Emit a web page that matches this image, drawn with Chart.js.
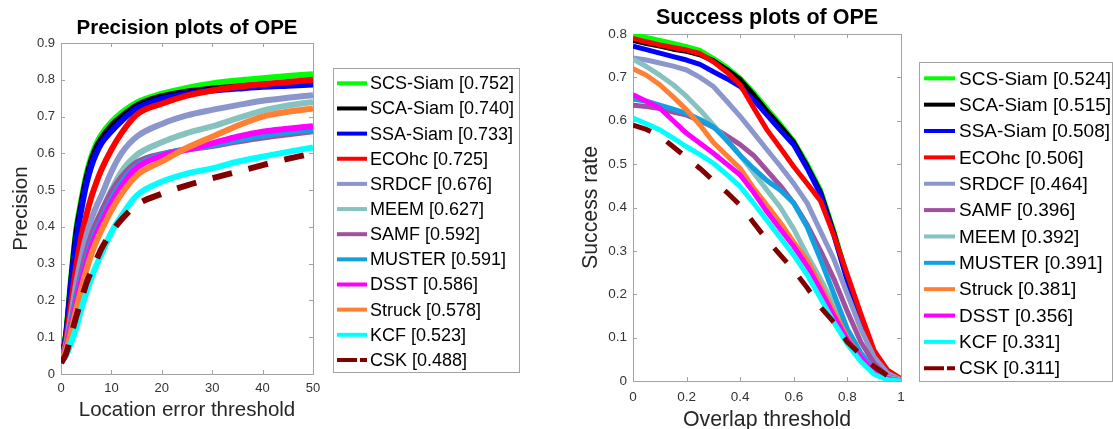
<!DOCTYPE html>
<html>
<head>
<meta charset="utf-8">
<script src="https://cdn.jsdelivr.net/npm/chart.js@4.4.0/dist/chart.umd.min.js"></script>
<style>
  html, body { margin: 0; padding: 0; background: #fff; overflow: hidden; width: 1113px; height: 429px; }
  .box { position: absolute; top: 0; }
  #precBox { left: 0; }
  #succBox { left: 560px; }
</style>
</head>
<body>
<div class="box" id="precBox"><canvas id="precChart" width="525" height="429"></canvas></div>
<div class="box" id="succBox"><canvas id="succChart" width="553" height="440"></canvas></div>
<script>
// ---- precision plot data (location error threshold in px) ----
const precThresholds = [0, 1, 2, 3, 4, 5, 6, 7, 8, 10, 12, 15, 20, 25, 30, 35, 40, 45, 50];
const precTrackers = ['SCS-Siam', 'SCA-Siam', 'SSA-Siam', 'ECOhc', 'SRDCF', 'MEEM', 'SAMF', 'MUSTER', 'DSST', 'Struck', 'KCF', 'CSK'];
const precScores = ['0.752', '0.740', '0.733', '0.725', '0.676', '0.627', '0.592', '0.591', '0.586', '0.578', '0.523', '0.488'];

const precSCS    = [0.035, 0.11, 0.26, 0.39, 0.47, 0.54, 0.59, 0.625, 0.65, 0.685, 0.71, 0.738, 0.762, 0.778, 0.79, 0.798, 0.804, 0.81, 0.815];
const precSCA    = [0.035, 0.105, 0.25, 0.38, 0.46, 0.53, 0.58, 0.615, 0.64, 0.675, 0.70, 0.73, 0.755, 0.768, 0.776, 0.782, 0.787, 0.791, 0.795];
const precSSA    = [0.035, 0.10, 0.24, 0.36, 0.445, 0.515, 0.565, 0.60, 0.627, 0.66, 0.688, 0.722, 0.748, 0.762, 0.771, 0.776, 0.781, 0.784, 0.787];
const precECOhc  = [0.035, 0.09, 0.19, 0.29, 0.37, 0.43, 0.48, 0.52, 0.555, 0.61, 0.655, 0.705, 0.735, 0.757, 0.771, 0.781, 0.788, 0.794, 0.80];
const precSRDCF  = [0.035, 0.08, 0.16, 0.245, 0.315, 0.375, 0.42, 0.455, 0.485, 0.55, 0.60, 0.645, 0.68, 0.703, 0.718, 0.731, 0.743, 0.751, 0.758];
const precMEEM   = [0.035, 0.075, 0.14, 0.215, 0.28, 0.33, 0.375, 0.41, 0.44, 0.50, 0.55, 0.595, 0.63, 0.655, 0.673, 0.695, 0.716, 0.73, 0.74];
const precSAMF   = [0.035, 0.075, 0.14, 0.21, 0.275, 0.33, 0.375, 0.41, 0.44, 0.495, 0.535, 0.575, 0.598, 0.61, 0.62, 0.632, 0.643, 0.652, 0.66];
const precMUSTER = [0.035, 0.07, 0.13, 0.20, 0.26, 0.31, 0.355, 0.39, 0.42, 0.475, 0.52, 0.565, 0.596, 0.612, 0.622, 0.636, 0.648, 0.657, 0.663];
const precDSST   = [0.035, 0.07, 0.125, 0.19, 0.25, 0.30, 0.345, 0.38, 0.41, 0.465, 0.51, 0.56, 0.593, 0.61, 0.627, 0.645, 0.659, 0.667, 0.674];
const precStruck = [0.035, 0.065, 0.115, 0.175, 0.23, 0.28, 0.325, 0.36, 0.39, 0.445, 0.49, 0.54, 0.578, 0.615, 0.645, 0.675, 0.70, 0.713, 0.722];
const precKCF    = [0.035, 0.05, 0.085, 0.125, 0.175, 0.22, 0.26, 0.295, 0.325, 0.385, 0.43, 0.485, 0.523, 0.545, 0.559, 0.577, 0.591, 0.604, 0.616];
const precCSK    = [0.03, 0.055, 0.105, 0.155, 0.20, 0.245, 0.28, 0.31, 0.34, 0.385, 0.42, 0.46, 0.49, 0.513, 0.532, 0.55, 0.568, 0.585, 0.60];
const precValues = [precSCS, precSCA, precSSA, precECOhc, precSRDCF, precMEEM, precSAMF, precMUSTER, precDSST, precStruck, precKCF, precCSK];

// ---- success plot data (overlap threshold) ----
const succThresholds = [0, 0.05, 0.1, 0.15, 0.2, 0.25, 0.3, 0.35, 0.4, 0.45, 0.5, 0.55, 0.6, 0.65, 0.7, 0.75, 0.8, 0.85, 0.9, 0.95, 1];
const succTrackers = ['SCS-Siam', 'SCA-Siam', 'SSA-Siam', 'ECOhc', 'SRDCF', 'SAMF', 'MEEM', 'MUSTER', 'Struck', 'DSST', 'KCF', 'CSK'];
const succScores = ['0.524', '0.515', '0.508', '0.506', '0.464', '0.396', '0.392', '0.391', '0.381', '0.356', '0.331', '0.311'];

const succSCS    = [0.80, 0.792, 0.785, 0.778, 0.771, 0.762, 0.744, 0.723, 0.698, 0.665, 0.628, 0.592, 0.553, 0.50, 0.44, 0.345, 0.24, 0.145, 0.065, 0.02, 0.003];
const succSCA    = [0.785, 0.778, 0.772, 0.765, 0.76, 0.752, 0.738, 0.718, 0.695, 0.66, 0.622, 0.587, 0.55, 0.495, 0.435, 0.34, 0.235, 0.14, 0.062, 0.02, 0.003];
const succSSA    = [0.772, 0.764, 0.756, 0.748, 0.74, 0.73, 0.713, 0.697, 0.679, 0.648, 0.613, 0.578, 0.544, 0.49, 0.43, 0.335, 0.23, 0.135, 0.06, 0.018, 0.003];
const succECOhc  = [0.79, 0.782, 0.775, 0.769, 0.763, 0.755, 0.736, 0.712, 0.683, 0.63, 0.579, 0.537, 0.494, 0.455, 0.415, 0.335, 0.245, 0.155, 0.07, 0.025, 0.005];
const succSRDCF  = [0.745, 0.74, 0.733, 0.726, 0.717, 0.70, 0.679, 0.645, 0.61, 0.572, 0.533, 0.495, 0.455, 0.41, 0.345, 0.28, 0.20, 0.12, 0.055, 0.018, 0.003];
const succSAMF   = [0.636, 0.633, 0.628, 0.62, 0.613, 0.60, 0.585, 0.565, 0.545, 0.52, 0.485, 0.45, 0.41, 0.36, 0.30, 0.235, 0.16, 0.09, 0.04, 0.01, 0.002];
const succMEEM   = [0.742, 0.725, 0.705, 0.683, 0.656, 0.625, 0.59, 0.555, 0.52, 0.48, 0.44, 0.40, 0.35, 0.29, 0.235, 0.175, 0.11, 0.06, 0.025, 0.008, 0.002];
const succMUSTER = [0.65, 0.645, 0.636, 0.627, 0.617, 0.603, 0.586, 0.555, 0.52, 0.49, 0.462, 0.44, 0.41, 0.355, 0.28, 0.20, 0.12, 0.065, 0.025, 0.006, 0.001];
const succStruck = [0.72, 0.705, 0.683, 0.655, 0.625, 0.59, 0.55, 0.52, 0.49, 0.445, 0.405, 0.365, 0.32, 0.278, 0.22, 0.16, 0.10, 0.055, 0.02, 0.005, 0.001];
const succDSST   = [0.66, 0.645, 0.629, 0.60, 0.571, 0.548, 0.525, 0.50, 0.475, 0.435, 0.39, 0.35, 0.31, 0.265, 0.21, 0.15, 0.095, 0.055, 0.02, 0.005, 0];
const succKCF    = [0.606, 0.593, 0.579, 0.56, 0.54, 0.522, 0.502, 0.476, 0.448, 0.41, 0.37, 0.33, 0.29, 0.245, 0.19, 0.135, 0.085, 0.045, 0.015, 0.003, 0];
const succCSK    = [0.59, 0.58, 0.565, 0.54, 0.515, 0.49, 0.462, 0.435, 0.405, 0.365, 0.325, 0.29, 0.255, 0.215, 0.17, 0.135, 0.09, 0.06, 0.033, 0.012, 0.002];
const succValues = [succSCS, succSCA, succSSA, succECOhc, succSRDCF, succSAMF, succMEEM, succMUSTER, succStruck, succDSST, succKCF, succCSK];

const trackerColors = {
  'SCS-Siam': '#00ff00', 'SCA-Siam': '#000000', 'SSA-Siam': '#0000ff', 'ECOhc': '#ff0000',
  'SRDCF': '#8a96cc', 'MEEM': '#86c2c0', 'SAMF': '#a0509e', 'MUSTER': '#12a0e0',
  'DSST': '#ff00ff', 'Struck': '#ff8033', 'KCF': '#00ffff', 'CSK': '#800000'
};

const FONT = '"Liberation Sans", Arial, sans-serif';

// box around the axes, inward ticks, title and the boxed legend
const framePlugin = {
  id: 'frame',
  beforeDatasetsDraw(chart, args, opts) {
    const { ctx, chartArea: a } = chart;
    const xs = chart.scales.x, ys = chart.scales.y;
    ctx.save();
    ctx.strokeStyle = '#a3a3a3';
    ctx.lineWidth = 1;
    ctx.strokeRect(Math.round(a.left) + 0.5, Math.round(a.top) + 0.5, Math.round(a.right - a.left), Math.round(a.bottom - a.top));
    ctx.beginPath();
    xs.ticks.forEach(t => {
      const px = Math.round(xs.getPixelForValue(t.value)) + 0.5;
      ctx.moveTo(px, a.bottom); ctx.lineTo(px, a.bottom - 4);
      ctx.moveTo(px, a.top); ctx.lineTo(px, a.top + 4);
    });
    ys.ticks.forEach(t => {
      const py = Math.round(ys.getPixelForValue(t.value)) + 0.5;
      ctx.moveTo(a.left, py); ctx.lineTo(a.left + 4, py);
      ctx.moveTo(a.right, py); ctx.lineTo(a.right - 4, py);
    });
    ctx.stroke();
    ctx.restore();
  },
  afterDraw(chart, args, opts) {
    const { ctx, chartArea: a } = chart;
    ctx.save();
    // title
    ctx.fillStyle = '#000';
    ctx.font = 'bold ' + opts.titleSize + 'px ' + FONT;
    ctx.textAlign = 'center';
    ctx.textBaseline = 'middle';
    ctx.fillText(opts.title, (a.left + a.right) / 2, opts.titleY);
    // legend
    const lg = opts.legend;
    ctx.fillStyle = '#fff';
    ctx.fillRect(lg.left, lg.top, lg.right - lg.left, lg.bottom - lg.top);
    ctx.strokeStyle = '#a3a3a3';
    ctx.lineWidth = 1;
    ctx.strokeRect(lg.left + 0.5, lg.top + 0.5, lg.right - lg.left, lg.bottom - lg.top);
    ctx.font = lg.fontSize + 'px ' + FONT;
    ctx.textAlign = 'left';
    chart.data.datasets.forEach((ds, i) => {
      const y = lg.firstY + i * lg.stepY;
      ctx.strokeStyle = ds.borderColor;
      ctx.lineWidth = 4;
      ctx.setLineDash(ds.borderDash && ds.borderDash.length ? [20, 3] : []);
      ctx.beginPath();
      ctx.moveTo(lg.lineFrom, y);
      ctx.lineTo(lg.lineTo, y);
      ctx.stroke();
      ctx.setLineDash([]);
      ctx.fillStyle = '#000';
      ctx.fillText(ds.label, lg.textX, y + 1);
    });
    ctx.restore();
  }
};

function makeDatasets(trackers, scores, values, thresholds, smooth, dash, width) {
  return trackers.map((name, i) => ({
    label: name + ' [' + scores[i] + ']',
    data: thresholds.map((t, j) => ({ x: t, y: values[i][j] })),
    borderColor: trackerColors[name],
    backgroundColor: trackerColors[name],
    borderWidth: width,
    borderDash: name === 'CSK' ? dash : [],
    pointRadius: 0,
    fill: false,
    cubicInterpolationMode: smooth ? 'monotone' : 'default',
    tension: 0,
    borderJoinStyle: 'round',
    order: -i
  }));
}

// matlab style labels: 0, 0.2, ..., 1
const plainLabel = v => String(Math.round(v * 100) / 100);

function axis(min, max, step, title, size, tickSize, titlePad, tickPad, fit) {
  return {
    type: 'linear', min: min, max: max,
    grid: { display: false, drawTicks: false },
    border: { display: false },
    ticks: { stepSize: step, color: '#333', padding: tickPad, maxRotation: 0, font: { family: FONT, size: tickSize }, callback: plainLabel },
    title: { display: true, text: title, color: '#262626', padding: titlePad, font: { family: FONT, size: size } },
    afterFit: fit
  };
}

new Chart(document.getElementById('precChart'), {
  type: 'line',
  data: { datasets: makeDatasets(precTrackers, precScores, precValues, precThresholds, true, [20, 17], 6) },
  options: {
    responsive: false,
    animation: false,
    layout: { padding: { top: 43, right: 212, left: 0, bottom: 0 } },
    scales: {
      x: axis(0, 50, 10, 'Location error threshold', 20.5, 13, { top: 0, bottom: 6 }, 7, s => { s.height = 55; }),
      y: axis(0, 0.9, 0.1, 'Precision', 20.5, 13, { top: 9, bottom: 0 }, 6, s => { s.width = 61; })
    },
    plugins: {
      legend: { display: false },
      tooltip: { enabled: false },
      frame: {
        title: 'Precision plots of OPE', titleSize: 20.5, titleY: 28,
        legend: { left: 333, top: 68, right: 519, bottom: 372, firstY: 83.3, stepY: 25.15, lineFrom: 337, lineTo: 367, textX: 370, fontSize: 18 }
      }
    }
  },
  plugins: [framePlugin]
});

new Chart(document.getElementById('succChart'), {
  type: 'line',
  data: { datasets: makeDatasets(succTrackers, succScores, succValues, succThresholds, false, [19, 19], 5) },
  options: {
    responsive: false,
    animation: false,
    layout: { padding: { top: 34, right: 212, left: 0, bottom: 0 } },
    scales: {
      x: axis(0, 1, 0.2, 'Overlap threshold', 21.3, 13.5, { top: 0, bottom: 7 }, 8, s => { s.height = 59; }),
      y: axis(0, 0.8, 0.1, 'Success rate', 21.3, 13.5, { top: 18, bottom: 0 }, 6, s => { s.width = 73; })
    },
    plugins: {
      legend: { display: false },
      tooltip: { enabled: false },
      frame: {
        title: 'Success plots of OPE', titleSize: 21.5, titleY: 18.3,
        legend: { left: 359, top: 62, right: 552, bottom: 381, firstY: 78.3, stepY: 26.36, lineFrom: 364, lineTo: 395, textX: 399, fontSize: 19 }
      }
    }
  },
  plugins: [framePlugin]
});
</script>
</body>
</html>
